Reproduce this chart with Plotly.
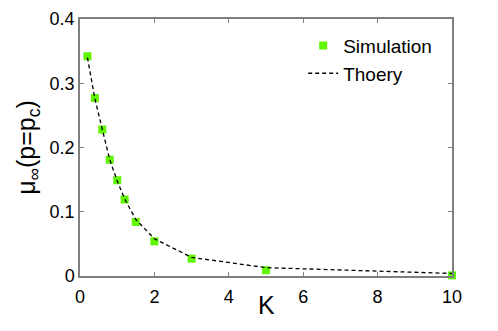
import plotly.graph_objects as go

K_sim = [0.2, 0.4, 0.6, 0.8, 1.0, 1.2, 1.5, 2, 3, 5, 10]
mu_sim = [0.342, 0.277, 0.228, 0.181, 0.149, 0.119, 0.084, 0.054, 0.027, 0.009, 0.001]

K_th = [0.2, 0.4, 0.6, 0.8, 1.0, 1.2, 1.5, 2, 3, 5, 10]
mu_th = [0.340, 0.276, 0.228, 0.181, 0.148, 0.120, 0.088, 0.058, 0.029, 0.013, 0.004]

x_ticks = [0, 2, 4, 6, 8, 10]
y_ticks = [0, 0.1, 0.2, 0.3, 0.4]
y_tick_text = ["0", "0.1", "0.2", "0.3", "0.4"]

font = "Liberation Sans, Arial, sans-serif"
axis_color = "#7f7f7f"

fig = go.Figure()
fig.add_trace(go.Scatter(
    x=K_sim, y=mu_sim, mode="markers", name="Simulation",
    marker=dict(symbol="square", size=8, color="#60f500", line=dict(width=0)),
    cliponaxis=False,
))
fig.add_trace(go.Scatter(
    x=K_th, y=mu_th, mode="lines", name="Thoery",
    line=dict(color="black", width=1.3, dash="4px,3px"),
))

# page body has an 8px margin; compensate so the plot area lands where the reference has it
fig.update_layout(
    width=490, height=323,
    margin=dict(l=72, r=46, t=11, b=55),
    paper_bgcolor="white", plot_bgcolor="white",
    font=dict(family=font, size=18, color="black"),
    showlegend=True,
    legend=dict(x=0.6, y=0.97, xanchor="left", yanchor="top",
                bgcolor="rgba(0,0,0,0)", font=dict(size=19),
                tracegroupgap=0, itemwidth=30),
    xaxis=dict(range=[0, 10], tickvals=x_ticks, ticks="inside", ticklen=4,
               tickcolor=axis_color, showline=True, linecolor=axis_color,
               linewidth=1.5, mirror="ticks", showgrid=False, zeroline=False,
               tickfont=dict(size=18), automargin=False, ticklabelstandoff=4),
    yaxis=dict(range=[0, 0.4], tickvals=y_ticks, ticktext=y_tick_text,
               ticks="inside", ticklen=4,
               tickcolor=axis_color, showline=True, linecolor=axis_color,
               linewidth=1.5, mirror="ticks", showgrid=False, zeroline=False,
               tickfont=dict(size=18), automargin=False,
               title=dict(text="μ<sub>∞</sub>(p=p<sub>c</sub>)", font=dict(size=25), standoff=7)),
    annotations=[dict(text="K", xref="paper", yref="paper", x=0.5, y=-0.111,
                      xanchor="center", yanchor="middle", showarrow=False,
                      font=dict(size=25))],
)

fig.write_html("out.html")
